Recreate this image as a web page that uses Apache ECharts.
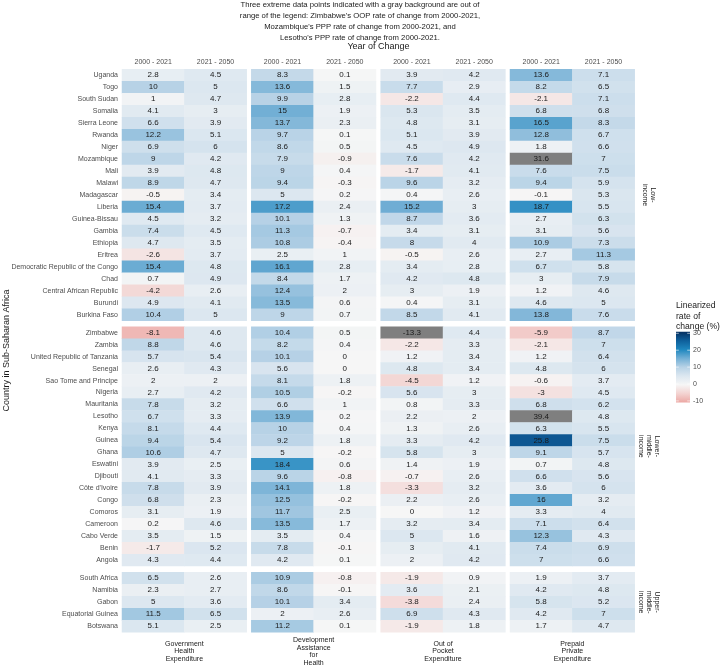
<!DOCTYPE html>
<html>
<head>
<meta charset="utf-8">
<script src="https://cdn.jsdelivr.net/npm/echarts@6/dist/echarts.min.js"></script>
<style>
html,body{margin:0;padding:0;background:#fff;}
#chart{width:720px;height:665px;}
</style>
</head>
<body>
<div id="chart"></div>
<script>
// ---------- DATA ----------
const lowIncome = ['Uganda','Togo','South Sudan','Somalia','Sierra Leone','Rwanda','Niger','Mozambique','Mali','Malawi','Madagascar','Liberia','Guinea-Bissau','Gambia','Ethiopia','Eritrea','Democratic Republic of the Congo','Chad','Central African Republic','Burundi','Burkina Faso'];
const lowerMiddleIncome = ['Zimbabwe','Zambia','United Republic of Tanzania','Senegal','Sao Tome and Principe','Nigeria','Mauritania','Lesotho','Kenya','Guinea','Ghana','Eswatini','Djibouti',"Côte d'Ivoire",'Congo','Comoros','Cameroon','Cabo Verde','Benin','Angola'];
const upperMiddleIncome = ['South Africa','Namibia','Gabon','Equatorial Guinea','Botswana'];
const incomeLabels = ['Low-\nincome','Lower-\nmiddle-\nincome','Upper-\nmiddle-\nincome'];
const periods = ['2000 - 2021','2021 - 2050'];
const measures = ['Government\nHealth\nExpenditure','Development\nAssistance\nfor\nHealth','Out of\nPocket\nExpenditure','Prepaid\nPrivate\nExpenditure'];
const legendTicks = [30, 20, 10, 0, -10];

// values in the order: lowIncome, lowerMiddleIncome, upperMiddleIncome
const ghe2000_2021 = [2.8,10,1,4.1,6.6,12.2,6.9,9,3.9,8.9,-0.5,15.4,4.5,7.4,4.7,-2.6,15.4,0.7,-4.2,4.9,10.4,
  -8.1,8.8,5.7,2.6,2,2.7,7.8,6.7,8.1,9.4,10.6,3.9,4.1,7.8,6.8,3.1,0.2,3.5,-1.7,4.3,
  6.5,2.3,5,11.5,5.1];
const ghe2021_2050 = [4.5,5,4.7,3,3.9,5.1,6,4.2,4.8,4.7,3.4,3.7,3.2,4.5,3.5,3.7,4.8,4.9,2.6,4.1,5,
  4.6,4.6,5.4,4.3,2,4.2,3.2,3.3,4.4,5.4,4.7,2.5,3.3,3.9,2.3,1.9,4.6,1.5,5.2,4.4,
  2.6,2.7,3.6,6.5,2.5];
const dah2000_2021 = [8.3,13.6,9.9,15,13.7,9.7,8.6,7.9,9,9.4,5,17.2,10.1,11.3,10.8,2.5,16.1,8.4,12.4,13.5,9,
  10.4,8.2,10.1,5.6,8.1,10.5,6.6,13.9,10,9.2,5,18.4,9.6,14.1,12.5,11.7,13.5,3.5,7.8,4.2,
  10.9,8.6,10.1,2,11.2];
const dah2021_2050 = [0.1,1.5,2.8,1.9,2.3,0.1,0.5,-0.9,0.4,-0.3,0.2,2.4,1.3,-0.7,-0.4,1,2.8,1.7,2,0.6,0.7,
  0.5,0.4,0,0,1.8,-0.2,1,0.2,0.4,1.8,-0.2,0.6,-0.8,1.8,-0.2,2.5,1.7,0.4,-0.1,0.1,
  -0.8,-0.1,3.4,2.6,0.1];
const oop2000_2021 = [3.9,7.7,-2.2,5.3,4.8,5.1,4.5,7.6,-1.7,9.6,0.4,15.2,8.7,3.4,8,-0.5,3.4,4.2,3,0.4,8.5,
  -13.3,-2.2,1.2,4.8,-4.5,5.6,0.8,2.2,1.3,3.3,5.8,1.4,-0.7,-3.3,2.2,0,3.2,5,3,2,
  -1.9,3.6,-3.8,6.9,-1.9];
const oop2021_2050 = [4.2,2.9,4.4,3.5,3.1,3.9,4.9,4.2,4.1,3.2,2.6,3,3.6,3.1,4,2.6,2.8,4.8,1.9,3.1,4.1,
  4.4,3.3,3.4,3.4,1.2,3,3.3,2,2.6,4.2,3,1.9,2.6,3.2,2.6,1.2,3.4,1.6,4.1,4.2,
  0.9,2.1,2.4,4.3,1.8];
const ppp2000_2021 = [13.6,8.2,-2.1,6.8,16.5,12.8,1.8,31.6,7.6,9.4,-0.1,18.7,2.7,3.1,10.9,2.7,6.7,3,1.2,4.6,13.8,
  -5.9,-2.1,1.2,4.8,-0.6,-3,6.8,39.4,6.3,25.8,9.1,0.7,6.6,3.6,16,3.3,7.1,12.3,7.4,7,
  1.9,4.2,5.8,4.2,1.7];
const ppp2021_2050 = [7.1,6.5,7.1,6.8,8.3,6.7,6.6,7,7.5,5.9,5.3,5.5,6.3,5.6,7.3,11.3,5.8,7.9,4.6,5,7.6,
  8.7,7,6.4,6,3.7,4.5,6.2,4.8,5.5,7.5,5.7,4.8,5.6,6,3.2,4,6.4,4.3,6.9,6.6,
  3.7,4.8,5.2,7,4.7];

const incomeGroups = [lowIncome, lowerMiddleIncome, upperMiddleIncome];
const measureValues = [[ghe2000_2021, ghe2021_2050],[dah2000_2021, dah2021_2050],[oop2000_2021, oop2021_2050],[ppp2000_2021, ppp2021_2050]];

// ---------- STYLE / LAYOUT ----------
const FONT = 'Liberation Sans, Arial, Helvetica, sans-serif';
const colorStops = ['#eca8a4','#f3d3d1','#f6f6f6','#dce7f0','#b7d2e6','#72afd5','#1e87bf','#0e5f9b','#053061'];
const scaleMin = -10, scaleMax = 30;
const panelLeft = [122, 251.3, 380.7, 510];
const panelW = 124.7;
const rowH = 11.97;
const groupTop = [69.3, 326.7, 572.3];

const grids = [], xAxes = [], yAxes = [], series = [];
let offset = 0;
incomeGroups.forEach((countries, r) => {
  measureValues.forEach((pair, c) => {
    const idx = grids.length;
    grids.push({left: panelLeft[c], top: groupTop[r], width: panelW, height: countries.length * rowH, containLabel: false});
    xAxes.push({
      type: 'category', gridIndex: idx, data: periods, position: 'top',
      axisLine: {show: false}, axisTick: {show: false}, splitLine: {show: false},
      axisLabel: {show: r === 0, fontSize: 7, color: '#4d4d4d', margin: 4, fontFamily: FONT}
    });
    yAxes.push({
      type: 'category', gridIndex: idx, data: countries, inverse: true,
      axisLine: {show: false}, axisTick: {show: false}, splitLine: {show: false},
      axisLabel: {show: c === 0, fontSize: 7, color: '#4d4d4d', margin: 4, fontFamily: FONT}
    });
    const data = [];
    countries.forEach((name, i) => {
      pair.forEach((arr, j) => { data.push([j, i, arr[offset + i]]); });
    });
    series.push({
      type: 'heatmap', xAxisIndex: idx, yAxisIndex: idx, data: data,
      itemStyle: {borderWidth: 0},
      label: {show: true, fontSize: 8, color: '#1a1a1a', fontFamily: FONT, formatter: p => String(p.value[2])},
      emphasis: {disabled: true}
    });
  });
  offset += countries.length;
});

// ---------- GRAPHIC TEXTS ----------
const graphic = [];
const txt = (x, y, text, opts = {}) => Object.assign({
  type: 'text', x: x, y: y, silent: true,
  style: Object.assign({text: text, fontFamily: FONT, fontSize: 7, fill: '#1a1a1a',
    align: 'center', textAlign: 'center', verticalAlign: 'middle', textVerticalAlign: 'middle'}, opts.style || {})
}, opts.el || {});

graphic.push(txt(360, 21, 'Three extreme data points indicated with a gray background are out of\nrange of the legend: Zimbabwe\'s OOP rate of change from 2000-2021,\nMozambique\'s PPP rate of change from 2000-2021, and\nLesotho\'s PPP rate of change from 2000-2021.', {style: {fontSize: 7.7, lineHeight: 11}}));
graphic.push(txt(378.5, 46.5, 'Year of Change', {style: {fontSize: 9}}));
graphic.push(txt(7, 350.5, 'Country in Sub-Saharan Africa', {style: {fontSize: 9}, el: {rotation: Math.PI / 2}}));
measures.forEach((m, c) => {
  graphic.push(txt(panelLeft[c] + panelW / 2, 651.5, m, {style: {fontSize: 7, lineHeight: 7.7, fill: '#1a1a1a'}}));
});
incomeGroups.forEach((g, r) => {
  graphic.push(txt(649, groupTop[r] + g.length * rowH / 2, incomeLabels[r], {style: {fontSize: 7, lineHeight: 7.7}, el: {rotation: -Math.PI / 2}}));
});

// legend
const barX = 676, barW = 14, yTop = 333.3, yBot = 400.9;
graphic.push(txt(676, 316.3, 'Linearized\nrate of\nchange (%)', {style: {fontSize: 8.6, lineHeight: 10.2, align: 'left', textAlign: 'left'}}));
graphic.push({
  type: 'rect', silent: true,
  shape: {x: barX, y: yTop - 1.5, width: barW, height: (yBot - yTop) + 3},
  style: {fill: new echarts.graphic.LinearGradient(0, 0, 0, 1,
    colorStops.slice().reverse().map((col, i, a) => ({offset: i / (a.length - 1), color: col})))}
});
legendTicks.forEach(v => {
  const y = yTop + (scaleMax - v) / (scaleMax - scaleMin) * (yBot - yTop);
  graphic.push(txt(693, y, String(v), {style: {fontSize: 7, fill: '#4d4d4d', align: 'left', textAlign: 'left'}}));
  graphic.push({type: 'line', silent: true, shape: {x1: barX, y1: y, x2: barX + 2.8, y2: y}, style: {stroke: '#fff', lineWidth: 0.6}});
  graphic.push({type: 'line', silent: true, shape: {x1: barX + barW - 2.8, y1: y, x2: barX + barW, y2: y}, style: {stroke: '#fff', lineWidth: 0.6}});
});

const chart = echarts.init(document.getElementById('chart'), null, {renderer: 'canvas'});
chart.setOption({
  backgroundColor: '#ffffff',
  animation: false,
  textStyle: {fontFamily: FONT},
  grid: grids, xAxis: xAxes, yAxis: yAxes, series: series,
  visualMap: {
    type: 'continuous', show: false, dimension: 2,
    min: scaleMin, max: scaleMax, range: [scaleMin + 0.0001, scaleMax - 0.0001],
    inRange: {color: colorStops}, outOfRange: {color: '#7f7f7f'},
    seriesIndex: series.map((s, i) => i)
  },
  graphic: graphic
});
</script>
</body>
</html>
